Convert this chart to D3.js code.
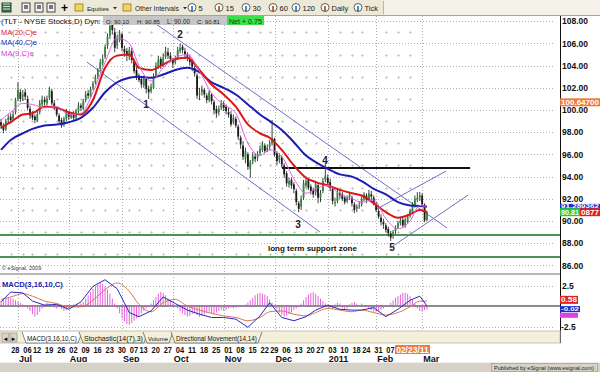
<!DOCTYPE html>
<html><head><meta charset="utf-8">
<script src="https://cdn.jsdelivr.net/npm/d3@7"></script>
<style>body{margin:0;background:#fff;} svg{display:block;font-family:"Liberation Sans",Arial,sans-serif;}</style>
</head><body><svg id="c" width="600" height="372"></svg>
<script>
// ---------------- DATA ----------------
const firstDay = "2010-06-22", lastDay = "2011-03-03";
const holidays = ["2010-07-05","2010-09-06","2010-11-25","2010-12-24","2011-01-17","2011-02-21"];

const opens = [
 98.9,98.5,98.3,99.1, 99.4,99.2,99.8,101.0,101.6, 101.2,101.6,101.0,100.1, 99.6,99.4,99.0,99.8,100.5,
 100.9,100.6,101.1,101.7,100.6, 100.1,99.5,99.1,98.7,99.2, 99.8,99.3,99.7,99.3,99.9, 100.4,100.1,100.9,101.5,101.2,
 102.0,102.5,103.0,103.7,104.2, 104.8,105.8,106.7,107.7,107.0, 105.8,106.3,106.8,105.5,105.3, 104.8,105.3,104.4,103.6,
 103.1,102.8,102.2,102.8,101.9, 101.7,102.0,103.1,103.9,104.6, 104.1,104.8,105.2,104.9,104.5, 104.3,104.7,105.3,105.7,105.3,
 104.9,104.7,104.4,103.8,103.1, 101.4,101.6,101.8,101.3,100.9, 101.4,100.7,100.1,99.8,100.2, 100.5,100.3,99.8,99.6,98.9,
 99.2,98.5,97.5,96.8,95.6, 96.0,94.7,95.4,95.8,95.7, 96.1,96.4,96.8,96.4, 96.7,97.0,97.4,96.1,95.5,
 95.7,95.0,94.3,93.3,93.7, 93.3,92.7,91.6,91.3,92.1, 93.2,93.7,93.1,92.8, 92.6,93.2,92.1,92.7,93.7,
 93.9,93.5,92.9,91.6,91.8, 92.5,92.4,92.1,91.8,92.2, 92.1,91.5,91.1,91.4, 91.5,92.0,92.3,91.9,92.4,
 92.1,91.5,90.9,90.3,89.9, 89.6,89.3,88.9,88.7,89.1, 89.4,89.8,90.1,89.6,90.0, 90.5,90.8,91.4,91.9, 92.1,92.3,91.4,90.10];
const highs = [
 99.2,98.8,99.2,99.6, 99.7,99.9,101.1,102.5,101.9, 101.8,101.9,101.3,100.4, 99.9,99.6,99.9,100.9,101.3,
 101.2,101.3,102.1,101.9,100.9, 100.2,99.7,99.3,99.4,100.1, 99.9,99.8,99.9,100.1,100.7, 100.6,101.0,101.7,101.8,102.1,
 102.6,103.2,103.8,104.6,105.0, 105.9,106.9,108.3,108.1,107.4, 106.8,107.2,107.0,105.8,105.6, 105.7,105.6,104.6,103.9,
 103.3,103.0,103.1,102.9,102.2, 102.4,103.3,104.3,104.9,104.8, 105.1,105.7,105.6,105.2,104.7, 104.9,105.7,106.0,105.9,105.6,
 105.2,105.0,104.6,104.0,103.3, 102.0,102.2,102.0,101.5,101.8, 101.5,100.9,100.4,100.4,100.9, 100.8,100.5,100.2,99.9,99.6,
 99.4,98.7,97.7,97.2,96.6, 96.2,95.5,96.2,96.1,96.3, 96.8,97.2,97.0,96.9, 97.3,99.1,97.5,96.3,96.1,
 95.9,95.2,94.5,93.9,93.9, 93.5,92.9,91.8,92.3,93.7, 94.0,93.9,93.3,93.0, 93.6,93.4,92.8,93.9,95.2,
 94.2,93.8,93.1,92.1,92.9, 92.8,92.6,92.3,92.3,92.6, 92.3,91.7,91.5,91.8, 92.2,92.6,92.5,92.8,92.7,
 92.3,91.7,91.1,90.6,90.2, 89.8,89.5,89.1,89.2,89.6, 90.0,90.3,90.3,90.3,90.6, 91.1,91.7,92.3,92.6, 92.6,92.5,91.6,90.85];
const lows = [
 98.3,97.9,98.1,98.8, 98.8,99.0,99.6,100.8,100.7, 100.8,100.9,100.0,99.2, 99.1,98.8,98.9,99.6,100.3,
 100.4,100.4,100.9,100.4,100.0, 99.4,98.8,98.4,98.5,99.0, 99.1,99.2,99.0,99.1,99.7, 99.9,100.0,100.7,101.0,101.1,
 101.8,102.3,102.8,103.5,104.0, 104.6,105.5,106.4,106.8,105.2, 105.5,106.1,105.3,104.8,104.4, 104.5,104.2,103.3,102.7,
 102.5,102.0,102.0,101.5,101.0, 101.5,101.9,102.9,103.7,103.7, 103.9,104.6,104.6,104.3,103.8, 104.1,104.5,105.1,105.1,104.6,
 104.4,104.0,103.5,103.0,101.0, 100.9,101.3,101.1,100.6,100.7, 100.5,99.6,99.3,99.5,100.0, 99.9,99.6,99.3,98.5,98.7,
 98.4,97.3,96.5,95.5,95.2, 94.6,93.9,95.1,95.3,95.4, 95.9,96.2,96.1,96.2, 96.4,96.8,95.8,95.0,95.2,
 94.8,93.9,93.1,93.0,92.9, 92.5,91.4,90.8,91.0,91.9, 93.0,92.8,92.4,92.1, 92.3,91.6,91.7,92.5,93.5,
 93.1,92.7,91.5,91.3,91.6, 92.0,91.8,91.5,91.6,91.9, 91.3,90.7,90.8,91.1, 91.3,91.8,91.6,91.8,91.9,
 91.4,90.8,90.2,89.6,89.3, 89.0,88.6,88.2,88.4,88.8, 89.3,89.6,89.4,89.4,89.8, 90.3,90.7,91.2,91.7, 91.8,91.3,89.9,90.00];
const closes = [
 98.6,98.2,99.0,99.3, 99.1,99.6,100.9,101.8,101.0, 101.4,101.2,100.2,99.5, 99.3,99.1,99.6,100.6,101.0,
 100.7,101.0,101.8,100.6,100.3, 99.6,99.0,98.6,99.2,99.8, 99.4,99.6,99.3,99.9,100.4, 100.2,100.8,101.4,101.3,101.9,
 102.4,102.9,103.6,104.3,104.6, 105.7,106.6,107.6,107.2,105.6, 106.4,106.9,105.6,105.2,104.9, 105.4,104.5,103.5,103.0,
 102.7,102.3,102.9,101.9,101.6, 102.1,103.0,104.0,104.5,104.0, 104.7,105.3,104.9,104.6,104.2, 104.6,105.4,105.6,105.4,105.0,
 104.8,104.3,103.9,103.3,101.3, 101.5,101.9,101.4,100.9,101.6, 100.8,100.0,99.7,100.1,100.6, 100.2,99.9,99.6,98.7,99.3,
 98.6,97.6,96.9,95.8,96.3, 94.9,95.3,95.9,95.6,96.0, 96.5,96.9,96.3,96.6, 96.9,97.5,96.0,95.4,95.9,
 95.1,94.2,93.4,93.6,93.2, 92.9,91.7,91.1,92.0,93.4, 93.6,93.0,92.7,92.4, 93.3,92.1,92.5,93.6,94.1,
 93.4,93.0,91.8,91.7,92.6, 92.3,92.0,91.7,92.1,92.4, 91.6,91.0,91.3,91.4, 92.0,92.4,91.9,92.5,92.2,
 91.6,91.0,90.4,89.9,89.7, 89.2,88.9,88.5,89.0,89.4, 89.8,90.0,89.6,90.1,90.4, 90.9,91.5,92.0,92.1, 92.3,91.5,90.06,90.81];

// study values sampled at the first bar of every week (plus the last bar)
const ma20 = [98.4,98.9,99.6,99.7,100.3,100.2,99.8,99.6,100.9,103.8,104.9,105.0,103.8,103.6,104.1,104.6,104.7,103.6,102.3,101.4,100.3,98.7,97.9,97.5,96.4,95.0,93.9,93.5,93.2,92.8,92.5,92.3,91.6,90.8,90.3,90.6,91.0,90.81];
const ma40 = [96.4,97.3,97.9,98.3,98.6,98.7,98.9,99.3,100.2,101.6,102.5,102.9,103.0,102.9,103.2,103.6,103.8,103.4,102.5,102.0,101.4,100.5,99.6,99.0,98.2,97.1,95.9,95.3,94.7,94.2,94.0,93.6,92.9,92.4,91.7,91.4,91.35,91.29];
const ma9  = [99.1,99.8,100.6,100.5,100.2,100.3,99.6,99.7,101.6,104.3,106.5,106.0,104.0,102.6,103.8,104.7,105.0,103.5,101.5,100.5,99.7,97.0,95.9,96.4,95.8,93.8,92.5,92.9,93.2,92.4,92.0,91.7,91.9,90.2,89.3,90.0,91.4,91.2];
const macdLine   = [0.5,1.7,1.6,0.6,0.1,0.2,-0.4,0.5,2.4,3.2,2.1,-0.8,-1.3,-0.6,1.1,0.3,-0.5,-1.0,-1.4,-1.4,-1.6,-2.6,-1.2,0.4,-1.4,-1.8,-1.3,-0.5,0.1,-0.4,-0.5,-0.5,-0.2,-1.3,-0.4,0.7,1.2,0.0];
const signalLine = [0.8,1.1,1.5,1.2,0.6,0.3,-0.1,-0.1,0.7,2.0,2.8,1.8,0.2,-0.7,0.4,0.8,0.0,-0.5,-0.9,-1.2,-1.4,-1.8,-1.4,-0.7,-0.6,-1.0,-1.2,-0.8,-0.3,-0.5,-0.7,-0.5,-0.8,-1.1,-0.8,-0.1,0.6,0.6];
const macdHist = [
 0.6,0.8,0.9,1.1,1.0,0.9,0.7,0.5,0.4,0.2,0.0,-0.3,-0.6, -1.0,-1.3,-1.1,-0.7,-0.3, 0.2,0.4,0.3,0.1,-0.2,-0.3,-0.1,
 -0.4,-0.6,-0.5,-0.3,-0.1,0.2,0.1,-0.2,0.3, 0.5,0.9,1.3,1.7,2.1,2.4,2.6,2.8,2.7,2.4,2.0,1.5,0.9,0.3,
 -0.3,-0.9,-1.5,-1.9,-2.2,-2.3,-2.1,-1.8,-1.5,-1.2,-0.9,-0.6,-0.3,-0.1, 0.3,0.7,1.1,1.5,1.7,1.6,1.3,0.9,0.6,0.3,0.0,
 -0.3,-0.6,-0.9,-1.1,-1.3,-1.2,-1.0,-0.9,-1.1,-1.3,-1.2,-1.0,-0.8,-0.7,-0.9,-1.0,-0.8,-0.6,-0.5,-0.6,-0.5,-0.3,-0.2,
 -0.3,-0.2,-0.1,0.1,-0.1,0.2,0.4, 0.7,1.0,1.3,1.5,1.6,1.5,1.4,1.2,0.8,0.4,0.0, -0.4,-0.8,-1.1,-1.3,-1.2,-1.0,-0.8,-0.5,-0.3,-0.1,
 0.3,0.7,1.1,1.4,1.6,1.7,1.5,1.2,0.9,0.6,0.3,0.1, -0.2,-0.3,0.2,0.4,0.3,-0.2,-0.4,-0.3,0.2,0.4,0.5,0.3,0.1,0.3,0.1,-0.1,
 -0.3,-0.5,-0.7,-0.7,-0.6,-0.5,-0.3,-0.1,0.1, 0.4,0.7,1.0,1.2,1.4,1.6,1.6,1.5,1.2,0.8,0.3,-0.3, -0.6,-0.7,-0.5,-0.4];

const priceTicks = [86,88,90,92,94,96,98,100,102,104,106,108];
const minorPrices = [87,89,91,93,95,97,99,101,103,105,107];
const macdTicks = [2.5,-2.5];
// drawn annotations: [bar index, price]
const channelLines = [[[62.8,107.93],[184.3,89.37]],[[35.5,104.32],[131.8,89.0]],[[154.5,90.99],[183.9,94.5]],[[162,87.75],[193,92.34]]];
const resistanceLine = [[116.1,94.77],[193.8,94.77]];
const supportLevels = [88.74, 86.76];
const waveLabels = [["1",59.9,100.54],["2",74,106.76],["3",122.7,89.64],["4",133.9,95.41],["5",161.6,87.57]];
const supportNote = ["long term support zone",110.3,87.57];
const legend = [["MA(20,C)e","#e02020"],["MA(40,C)e","#1c1cb4"],["MA(9,C)e","#e040e0"]];
const quote = [["O: 90.10",106],["H: 90.85",137],["L: 90.00",167],["C: 90.81",197]];
const netText = "Net + 0.75";
const cursorDate = "02/23/11";

// ---------------- SETUP ----------------
const svg = d3.select("#c");
const parse = d3.timeParse("%Y-%m-%d"), fmt = d3.timeFormat("%Y-%m-%d");
const days = d3.timeDay.range(parse(firstDay), d3.timeDay.offset(parse(lastDay),1))
  .filter(d => d.getDay()!==0 && d.getDay()!==6 && !holidays.includes(fmt(d)));
const N = days.length;
const weekStart = d3.range(N).filter(i => i===0 || +d3.timeMonday.floor(days[i]) !== +d3.timeMonday.floor(days[i-1]));
const sampleIdx = weekStart.concat([N-1]);
const monthStart = d3.range(1,N).filter(i => days[i].getMonth() !== days[i-1].getMonth());

const x = d3.scaleLinear().domain([0, N-1]).range([1, 427]);
const y = d3.scaleLinear().domain([86,108]).range([265.4, 21.2]);
const ym = d3.scaleLinear().domain([-2.5,2.5]).range([326.5,285.5]);
const AX = 560;

function fitText(g, tx, ty, str, width, fs, attrs){
  const t = g.append("text").attr("x",tx).attr("y",ty).attr("font-size",fs).text(str);
  Object.entries(attrs||{}).forEach(([k,v])=>t.attr(k,v));
  const n = t.node().getComputedTextLength();
  if(n > 0) t.attr("font-size", fs*width/n);
  return t;
}

svg.append("rect").attr("width",600).attr("height",372).attr("fill","#fff");

// ---------------- TOOLBAR ----------------
const tb = svg.append("g");
tb.append("rect").attr("width",600).attr("height",15).attr("fill","#ece9d8");
tb.append("rect").attr("x",384).attr("width",216).attr("height",15).attr("fill","#f3f1e8");
tb.append("line").attr("x1",0).attr("x2",600).attr("y1",15.5).attr("y2",15.5).attr("stroke","#a8a498");
tb.append("line").attr("x1",383.5).attr("x2",383.5).attr("y1",1).attr("y2",14).attr("stroke","#b8b4a8");
tb.append("rect").attr("x",2).attr("y",3).attr("width",9).attr("height",9).attr("fill","#2f7a3a").attr("stroke","#244");
[4,6.5,9].forEach(v=>tb.append("line").attr("x1",3).attr("x2",10).attr("y1",v).attr("y2",v).attr("stroke","#ddd"));
[22,35,47].forEach(ix=>{
  tb.append("rect").attr("x",ix).attr("y",3).attr("width",8).attr("height",9).attr("fill","#f4f4f4").attr("stroke","#444");
  tb.append("rect").attr("x",ix+2).attr("y",5).attr("width",4).attr("height",4).attr("fill","#777");
});
tb.append("text").attr("x",61).attr("y",12).attr("font-size",12).attr("font-weight","bold").text("+");
[[75,"Equities",87,22,115],[123,"Other Intervals",135,44,185]].forEach(([fx,t,tx,tl,ax])=>{
  tb.append("rect").attr("x",fx).attr("y",4).attr("width",8).attr("height",7).attr("fill","#f2d466").attr("stroke","#a88a30");
  fitText(tb, tx, 11, t, tl, 9, {fill:"#222"});
  tb.append("path").attr("d",`M${ax-2},7 L${ax+2},7 L${ax},9.5 Z`).attr("fill","#333");
});
[[192,"5"],[219,"15"],[246,"30"],[273,"60"],[296,"120"],[325,"Daily"],[358,"Tick"]].forEach(([cx,t])=>{
  tb.append("circle").attr("cx",cx).attr("cy",7.5).attr("r",4).attr("fill","#fff").attr("stroke","#333").attr("stroke-width",0.8);
  tb.append("text").attr("x",cx).attr("y",10.5).attr("font-size",7).attr("text-anchor","middle").attr("font-weight","bold").text("I");
  tb.append("text").attr("x",cx+6.5).attr("y",11).attr("font-size",7.5).attr("fill","#222").text(t);
});

// ---------------- GRID ----------------
const grid = svg.append("g").attr("stroke","#9a9a9a").attr("stroke-dasharray","1,2").attr("stroke-width",0.8);
priceTicks.forEach(v=>grid.append("line").attr("x1",0).attr("x2",554).attr("y1",Math.round(y(v))+0.5).attr("y2",Math.round(y(v))+0.5));
macdTicks.forEach(v=>grid.append("line").attr("x1",0).attr("x2",554).attr("y1",Math.round(ym(v))+0.5).attr("y2",Math.round(ym(v))+0.5));
monthStart.forEach(i=>grid.append("line").attr("x1",Math.round(x(i))+0.5).attr("x2",Math.round(x(i))+0.5).attr("y1",16).attr("y2",331));
const cross = svg.append("g").attr("stroke","#c4c4c4").attr("stroke-width",0.8);
weekStart.slice(1).filter(i=>!monthStart.some(m=>Math.abs(x(m)-x(i))<4)).forEach(i=>minorPrices.forEach(p=>{
  const cx = Math.round(x(i))+0.5, cy = Math.round(y(p))+0.5;
  cross.append("line").attr("x1",cx-1.5).attr("x2",cx+1.5).attr("y1",cy).attr("y2",cy);
  cross.append("line").attr("x1",cx).attr("x2",cx).attr("y1",cy-1.5).attr("y2",cy+1.5);
}));

supportLevels.forEach(v=>svg.append("line").attr("x1",0).attr("x2",AX).attr("y1",y(v)).attr("y2",y(v)).attr("stroke","#4a9458").attr("stroke-width",2));
channelLines.forEach(l=>svg.append("line").attr("x1",x(l[0][0])).attr("y1",y(l[0][1])).attr("x2",x(l[1][0])).attr("y2",y(l[1][1]))
  .attr("stroke","#6f6fc8").attr("stroke-width",1));
svg.append("line").attr("x1",x(resistanceLine[0][0])).attr("y1",y(resistanceLine[0][1])).attr("x2",x(resistanceLine[1][0])).attr("y2",y(resistanceLine[1][1]))
  .attr("stroke","#111").attr("stroke-width",2);

// ---------------- CANDLES ----------------
const cg = svg.append("g");
d3.range(N).forEach(i=>{
  const up = closes[i] >= opens[i];
  const col = up ? "#2e8a3e" : "#1a1a1a";
  const cx = x(i);
  cg.append("line").attr("x1",cx).attr("x2",cx).attr("y1",y(highs[i])).attr("y2",y(lows[i])).attr("stroke","#2a2a2a").attr("stroke-width",0.9);
  const top = y(Math.max(opens[i],closes[i])), bot = y(Math.min(opens[i],closes[i]));
  cg.append("rect").attr("x",cx-0.9).attr("width",1.8).attr("y",top).attr("height",Math.max(1,bot-top)).attr("fill",col);
});

// ---------------- MOVING AVERAGES ----------------
const maLine = d3.line().x(d=>x(d[0])).y(d=>y(d[1])).curve(d3.curveMonotoneX);
[[ma40,"#1c1cb4",2],[ma20,"#d81818",2],[ma9,"#e060e0",1]].forEach(([arr,c,w])=>{
  svg.append("path").attr("d",maLine(sampleIdx.map((si,k)=>[si,arr[k]]))).attr("fill","none").attr("stroke",c).attr("stroke-width",w);
});

waveLabels.forEach(([t,j,p])=>svg.append("text").attr("x",x(j)).attr("y",y(p)+3.5).attr("text-anchor","middle")
  .attr("font-size",10).attr("font-weight","bold").attr("fill","#222").text(t));
fitText(svg, x(supportNote[1]), y(supportNote[2])+3.5, supportNote[0], 89, 10, {"font-weight":"bold",fill:"#111"});

// header
fitText(svg, 1, 24, "(TLT - NYSE Stocks,D) Dyn:", 100, 10, {fill:"#111"});
svg.append("rect").attr("x",103).attr("y",16).attr("width",124).attr("height",9).attr("fill","#c6c6c6");
quote.forEach(([t,tx])=>fitText(svg, tx, 23.5, t, 23, 8, {fill:"#222"}));
svg.append("rect").attr("x",227).attr("y",16).attr("width",37).attr("height",9).attr("fill","#3be04a");
fitText(svg, 229, 23.5, netText, 33, 8, {fill:"#1a3a1a"});
legend.forEach(([t,c],k)=>fitText(svg, 1, 35+k*10.3, t, t.length>8?36:33, 9.5, {fill:c}));
svg.append("text").attr("x",2).attr("y",270).attr("font-size",5.5).attr("fill","#333").text("© eSignal, 2009");

// ---------------- MACD PANEL ----------------
svg.append("line").attr("x1",0).attr("x2",AX).attr("y1",274).attr("y2",274).attr("stroke","#a0a0a0").attr("stroke-width",1.5);
svg.append("line").attr("x1",0).attr("x2",AX).attr("y1",ym(0)).attr("y2",ym(0)).attr("stroke","#8c8c8c").attr("stroke-width",2);
const hg = svg.append("g");
macdHist.forEach((v,i)=>hg.append("line").attr("x1",x(i)).attr("x2",x(i)).attr("y1",ym(0)).attr("y2",ym(v)).attr("stroke","#e050d8").attr("stroke-width",0.9));
const mLine = d3.line().x(d=>x(d[0])).y(d=>ym(d[1]));
svg.append("path").attr("d",mLine.curve(d3.curveMonotoneX)(sampleIdx.map((si,k)=>[si,signalLine[k]]))).attr("fill","none").attr("stroke","#d87850").attr("stroke-width",1);
svg.append("path").attr("d",mLine.curve(d3.curveLinear)(sampleIdx.map((si,k)=>[si,macdLine[k]]))).attr("fill","none").attr("stroke","#2828c0").attr("stroke-width",1);
fitText(svg, 2, 286.5, "MACD(3,16,10,C)", 61, 9.5, {"font-weight":"bold",fill:"#2020b0"});

// ---------------- RIGHT AXIS ----------------
svg.append("line").attr("x1",AX+0.5).attr("x2",AX+0.5).attr("y1",16).attr("y2",343).attr("stroke","#111").attr("stroke-width",1);
priceTicks.forEach(v=>svg.append("text").attr("x",AX+2).attr("y",y(v)+3.2).attr("font-size",8.5).attr("font-weight","bold").attr("fill","#111").text(d3.format(".2f")(v)));
macdTicks.forEach(v=>svg.append("text").attr("x",AX+(v<0?1:2)).attr("y",ym(v)+3.2).attr("font-size",8.5).attr("font-weight","bold").attr("fill","#111").text(v));
function tag(yc,txt,bg,fg,x0,w,h,fs){
  svg.append("rect").attr("x",x0).attr("y",yc-h/2).attr("width",w).attr("height",h).attr("fill",bg);
  if(txt) svg.append("text").attr("x",x0+1).attr("y",yc+fs*0.36).attr("font-size",fs).attr("font-weight","bold").attr("fill",fg)
    .attr("textLength",w-2).attr("lengthAdjust","spacingAndGlyphs").text(txt);
}
tag(102.3,"100.64700","#f07a3a","#fff",AX,40,8,6.5);
tag(206.4,"91.289362","#1a2ad0","#fff",AX,40,5,4.5);
tag(212.2,"0877","#e02020","#fff",AX+20,20,8,6.5);
tag(212.2,"90.81","#22cc33","#fff",AX,20,8,6.5);
tag(ym(0.75),"0.58","#e02020","#fff",AX,18,8,6.5);
tag(ym(-0.95)+1.5,"","#e040e0","#fff",AX,18,5,5);
tag(ym(-0.38),"-0.02","#1a2ad0","#fff",AX,20,6,5.5);

// ---------------- TAB BAR ----------------
svg.append("rect").attr("x",0).attr("y",331).attr("width",AX).attr("height",12).attr("fill","#f3efd8").attr("stroke","#c8c4b0");
[[2,"◄"],[10,"►"]].forEach(([bx,t])=>{
  svg.append("rect").attr("x",bx).attr("y",333).attr("width",7).attr("height",9).attr("fill","#d8d4c8").attr("stroke","#888").attr("stroke-width",0.6);
  svg.append("text").attr("x",bx+3.5).attr("y",340.5).attr("font-size",6).attr("text-anchor","middle").text(t);
});
[["MACD(3,16,10,C)",27,50,"#fff"],["Stochastic(14(7),3)",84,59,"#f3efd8"],["Volume",148,20,"#f3efd8"],["Directional Movement(14,14)",176,81,"#f3efd8"]].forEach(([t,tx,w,bg])=>{
  svg.append("path").attr("d",`M${tx-5},332 L${tx-1},343 L${tx+w+1},343 L${tx+w+5},332`).attr("fill",bg).attr("stroke","#555").attr("stroke-width",0.7);
  fitText(svg, tx, 340.5, t, w, 8.5, {fill:"#111"});
});

// ---------------- DATE AXIS ----------------
const ci = days.findIndex(d=>d3.timeFormat("%m/%d/%y")(d)===cursorDate);
const boxL = x(ci)-17.5, boxR = x(ci)+17.5;
const dayFmt = d3.timeFormat("%d");
weekStart.slice(1).filter(i => x(i)+8.5 < boxL || x(i) > boxR).forEach(i=>svg.append("text").attr("x",x(i)+0.5).attr("y",352.5).attr("font-size",9).attr("font-weight","bold")
  .attr("textLength",8.3).attr("lengthAdjust","spacingAndGlyphs").attr("fill","#111").text(dayFmt(days[i])));
monthStart.forEach(i=>{
  const d = days[i];
  svg.append("text").attr("x",x(i)+1).attr("y",361.5).attr("font-size",9).attr("font-weight","bold").attr("fill","#111")
    .text(d.getMonth()===0 ? d3.timeFormat("%Y")(d) : d3.timeFormat("%b")(d));
});
svg.append("rect").attr("x",boxL).attr("y",345).attr("width",35).attr("height",9).attr("fill","#f07a3a");
svg.append("text").attr("x",x(ci)).attr("y",352.5).attr("text-anchor","middle").attr("font-size",8.5).attr("font-weight","bold").attr("fill","#fff").text(cursorDate);

// ---------------- FOOTER ----------------
svg.append("rect").attr("x",0).attr("y",362).attr("width",600).attr("height",10).attr("fill","#d6d2c8");
svg.append("line").attr("x1",0).attr("x2",600).attr("y1",362.5).attr("y2",362.5).attr("stroke","#eee");
svg.append("rect").attr("x",491.5).attr("y",363.5).attr("width",106).attr("height",8).attr("fill","none").attr("stroke","#a09c90").attr("stroke-width",0.7);
fitText(svg, 494, 370.3, "Published by eSignal (www.esignal.com)", 100, 8, {fill:"#222"});
</script></body></html>
